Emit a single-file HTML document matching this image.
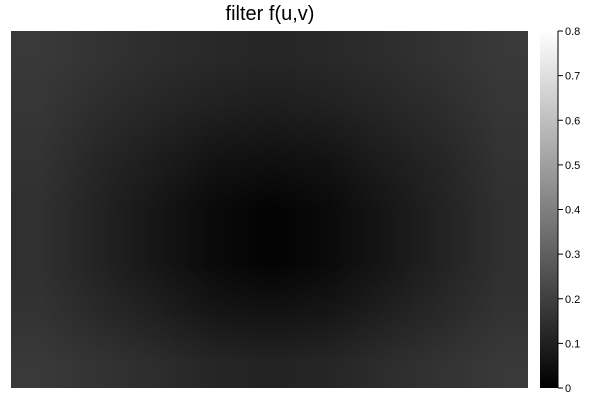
<!DOCTYPE html>
<html><head><meta charset="utf-8">
<style>
body{margin:0;background:#fff;width:600px;height:400px;overflow:hidden;font-family:"Liberation Sans",sans-serif;position:relative}
#title{position:absolute;left:0;width:540px;top:3px;text-align:center;font-size:20px;color:#000}
#heat{position:absolute;left:11px;top:31px;width:517px;height:357px;image-rendering:auto}
#cbar{position:absolute;left:540px;top:31px;width:18px;height:357px;background:linear-gradient(to top,#000,#fff)}
</style></head>
<body>
<div id="title">filter f(u,v)</div>
<canvas id="heat" width="9" height="7"></canvas>
<div id="cbar"></div>
<svg id="ax" width="600" height="400" style="position:absolute;left:0;top:0"></svg>
<script>
const gridValues = [
 [.18,.16,.14,.13,.12,.13,.14,.16,.18],
 [.17,.14,.12,.10,.09,.10,.12,.14,.17],
 [.16,.12,.09,.06,.05,.06,.09,.12,.16],
 [.15,.11,.07,.03,.01,.03,.07,.11,.15],
 [.15,.11,.07,.03,.01,.03,.07,.11,.15],
 [.16,.13,.10,.07,.06,.07,.10,.13,.16],
 [.18,.16,.14,.12,.11,.12,.14,.16,.18]
];
const cbarTicks = [0,0.1,0.2,0.3,0.4,0.5,0.6,0.7,0.8];
const cbarLabels = ["0","0.1","0.2","0.3","0.4","0.5","0.6","0.7","0.8"];
const vmax = 0.8;
const c = document.getElementById('heat');
c.width = gridValues[0].length; c.height = gridValues.length;
const ctx = c.getContext('2d');
const img = ctx.createImageData(c.width, c.height);
gridValues.forEach((row,r)=>row.forEach((v,k)=>{
  const g = Math.round(255*Math.min(1,v/vmax));
  const i=(r*c.width+k)*4;
  img.data[i]=g;img.data[i+1]=g;img.data[i+2]=g;img.data[i+3]=255;
}));
ctx.putImageData(img,0,0);
const svg=document.getElementById('ax'), NS='http://www.w3.org/2000/svg';
const y0=388,y1=31; const ys=v=>y0-(v/vmax)*(y0-y1);
const line=document.createElementNS(NS,'line');
line.setAttribute('x1',558);line.setAttribute('x2',558);line.setAttribute('y1',y1);line.setAttribute('y2',y0);
line.setAttribute('stroke','#000');


svg.appendChild(line);
cbarTicks.forEach((t,i)=>{
  const tk=document.createElementNS(NS,'line');
  tk.setAttribute('x1',558);tk.setAttribute('x2',563);tk.setAttribute('y1',ys(t));tk.setAttribute('y2',ys(t));
  tk.setAttribute('stroke','#000');
  
  
  svg.appendChild(tk);
  const tx=document.createElementNS(NS,'text');
  tx.setAttribute('x',565);tx.setAttribute('y',ys(t)+4);
  tx.setAttribute('font-size','11');tx.setAttribute('font-family','Liberation Sans, sans-serif');
  tx.textContent=cbarLabels[i];
  
  
  svg.appendChild(tx);
});
</script>
</body></html>
